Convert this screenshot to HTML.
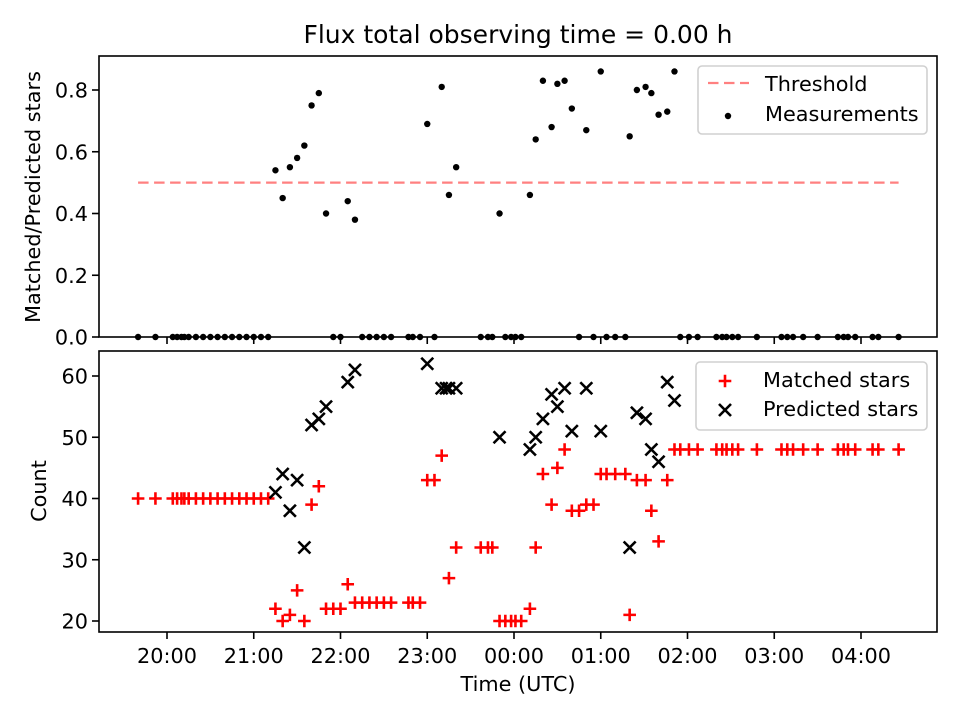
<!DOCTYPE html>
<html><head><meta charset="utf-8"><style>
body{margin:0;background:#fff}
svg text{font-family:"DejaVu Sans","Liberation Sans",sans-serif;fill:#000}
</style></head><body>
<svg id="chart" width="960" height="720" viewBox="0 0 960 720" xmlns="http://www.w3.org/2000/svg">
<rect width="960" height="720" fill="#fff"/>
<text x="518" y="43" font-size="25" text-anchor="middle">Flux total observing time = 0.00 h</text>
<g id="topPanel"></g><g id="botPanel"></g>
</svg>
<script>
const obsTimes=["19:40","19:52","20:04","20:07","20:10","20:12","20:15","20:20","20:25","20:30","20:35","20:40","20:45","20:50","20:55","21:00","21:05","21:10","21:15","21:20","21:25","21:30","21:35","21:40","21:45","21:50","21:55","22:00","22:05","22:10","22:15","22:20","22:25","22:30","22:35","22:47","22:50","22:55","23:00","23:05","23:10","23:15","23:20","23:37","23:42","23:45","23:50","23:54","23:58","00:01","00:05","00:11","00:15","00:20","00:26","00:30","00:35","00:40","00:45","00:50","00:55","01:00","01:04","01:10","01:17","01:20","01:25","01:31","01:35","01:40","01:46","01:51","01:55","02:01","02:07","02:20","02:24","02:27","02:31","02:35","02:48","03:05","03:09","03:13","03:20","03:30","03:44","03:48","03:51","03:56","04:08","04:12","04:26"];
const ratio=[0,0,0,0,0,0,0,0,0,0,0,0,0,0,0,0,0,0,.54,.45,.55,.58,.62,.75,.79,.40,0,0,.44,.38,0,0,0,0,0,0,0,0,.69,0,.81,.46,.55,0,0,0,.40,0,0,0,0,.46,.64,.83,.68,.82,.83,.74,0,.67,0,.86,0,0,0,.65,.80,.81,.79,.72,.73,.86,0,0,0,0,0,0,0,0,0,0,0,0,0,0,0,0,0,0,0,0,0];
const matched=[40,40,40,40,40,40,40,40,40,40,40,40,40,40,40,40,40,40,22,20,21,25,20,39,42,22,22,22,26,23,23,23,23,23,23,23,23,23,43,43,47,27,32,32,32,32,20,20,20,20,20,22,32,44,39,45,48,38,38,39,39,44,44,44,44,21,43,43,38,33,43,48,48,48,48,48,48,48,48,48,48,48,48,48,48,48,48,48,48,48,48,48,48];
const predTimes=["21:15","21:20","21:25","21:30","21:35","21:40","21:45","21:50","22:05","22:10","23:00","23:10","23:13","23:15","23:20","23:50","00:11","00:15","00:20","00:26","00:30","00:35","00:40","00:50","01:00","01:20","01:25","01:31","01:35","01:40","01:46","01:51"];
const predicted=[41,44,38,43,32,52,53,55,59,61,62,58,58,58,58,50,48,50,53,57,55,58,51,58,51,32,54,53,48,46,59,56];
const xTicks=["20:00","21:00","22:00","23:00","00:00","01:00","02:00","03:00","04:00"];
const topTicks=[0,0.2,0.4,0.6,0.8];
const botTicks=[20,30,40,50,60];
const threshold=0.5;

const NS="http://www.w3.org/2000/svg";
const FS=20.8;
function mins(s){let [h,m]=s.split(":").map(Number);if(h<12)h+=24;return h*60+m-1200;}
function X(s){return 167+mins(s)*86.75/60;}
function Yt(v){return 337-v*308.75;}
function Yb(v){return 621-(v-20)*6.125;}
function el(p,tag,a,txt){const e=document.createElementNS(NS,tag);for(const k in a)e.setAttribute(k,a[k]);if(txt!==undefined)e.textContent=txt;p.appendChild(e);return e;}
const gTop=document.getElementById('topPanel'),gBot=document.getElementById('botPanel');
const L=99,R=937;
function frame(g,y0,y1,name){
  const r=el(g,'rect',{x:L,y:y0,width:R-L,height:y1-y0,fill:'none',stroke:'#000','stroke-width':1.6});
  
  
}
xTicks.forEach(t=>{
  const x=X(t);
  el(gTop,'line',{x1:x,x2:x,y1:337,y2:344,stroke:'#000','stroke-width':1.6});
  el(gBot,'line',{x1:x,x2:x,y1:632,y2:639,stroke:'#000','stroke-width':1.6});
  const tx=el(gBot,'text',{x:x,y:663,'font-size':FS,'text-anchor':'middle'},t);
  
  
});
topTicks.forEach(v=>{
  const y=Yt(v);
  el(gTop,'line',{x1:L-7,x2:L,y1:y,y2:y,stroke:'#000','stroke-width':1.6});
  const tx=el(gTop,'text',{x:L-11,y:y+7.5,'font-size':FS,'text-anchor':'end'},v.toFixed(1));
  
  
});
botTicks.forEach(v=>{
  const y=Yb(v);
  el(gBot,'line',{x1:L-7,x2:L,y1:y,y2:y,stroke:'#000','stroke-width':1.6});
  const tx=el(gBot,'text',{x:L-11,y:y+7.5,'font-size':FS,'text-anchor':'end'},String(v));
  
  
});
let t1=el(gTop,'text',{x:0,y:0,'font-size':FS,'text-anchor':'middle',transform:'translate(40,197) rotate(-90)'},'Matched/Predicted stars');


let t2=el(gBot,'text',{x:0,y:0,'font-size':FS,'text-anchor':'middle',transform:'translate(46,491) rotate(-90)'},'Count');


let t3=el(gBot,'text',{x:518,y:691,'font-size':FS,'text-anchor':'middle'},'Time (UTC)');


const th=el(gTop,'line',{x1:X(obsTimes[0]),x2:X(obsTimes[obsTimes.length-1]),y1:Yt(threshold),y2:Yt(threshold),stroke:'#ff8080','stroke-width':2.2,'stroke-dasharray':'10.5,5.5'});


obsTimes.forEach((t,i)=>{
  const c=el(gTop,'circle',{cx:X(t),cy:Yt(ratio[i]),r:3.2,fill:'#000'});
  
  
});
function plus(g,x,y){return el(g,'path',{d:`M${x-6.3},${y}h12.6M${x},${y-6.3}v12.6`,stroke:'#f00','stroke-width':2.6,fill:'none'});}
function cross(g,x,y){return el(g,'path',{d:`M${x-6},${y-6}l12,12M${x-6},${y+6}l12,-12`,stroke:'#000','stroke-width':2.6,fill:'none'});}
obsTimes.forEach((t,i)=>{
  const p=plus(gBot,X(t),Yb(matched[i]));
  
  
});
predTimes.forEach((t,i)=>{
  const p=cross(gBot,X(t),Yb(predicted[i]));
  
  
});
frame(gTop,56,337,'top-plot-frame');frame(gBot,351,632,'bottom-plot-frame');
const lg1=el(gTop,'g',{});


el(lg1,'rect',{x:698,y:66,width:229,height:68,rx:4,fill:'#fff','fill-opacity':0.8,stroke:'#d0d0d0','stroke-width':1.6});
el(lg1,'line',{x1:708,x2:749,y1:83,y2:83,stroke:'#ff8080','stroke-width':2.2,'stroke-dasharray':'10.5,5.5'});
el(lg1,'text',{x:765,y:91,'font-size':FS},'Threshold');
el(lg1,'circle',{cx:728,cy:116,r:3.2,fill:'#000'});
el(lg1,'text',{x:765,y:121,'font-size':FS},'Measurements');
const lg2=el(gBot,'g',{});


el(lg2,'rect',{x:696,y:362,width:231,height:68,rx:4,fill:'#fff','fill-opacity':0.8,stroke:'#d0d0d0','stroke-width':1.6});
plus(lg2,725,381);
el(lg2,'text',{x:763,y:387,'font-size':FS},'Matched stars');
cross(lg2,725,410);
el(lg2,'text',{x:763,y:416,'font-size':FS},'Predicted stars');
</script>
</body></html>
